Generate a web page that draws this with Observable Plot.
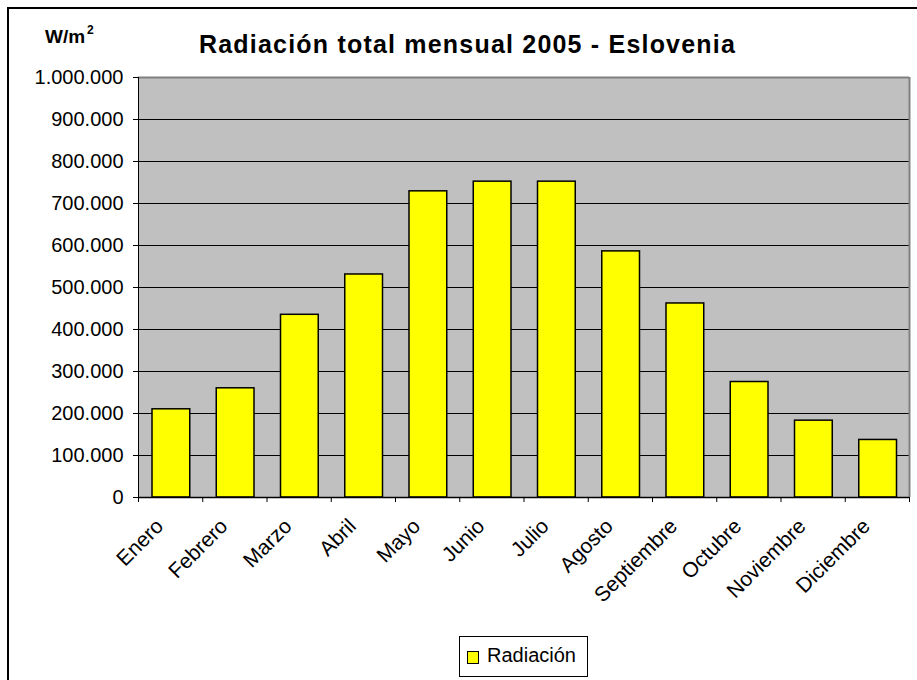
<!DOCTYPE html>
<html>
<head>
<meta charset="utf-8">
<script src="https://cdn.jsdelivr.net/npm/d3@7"></script>
<script src="https://cdn.jsdelivr.net/npm/@observablehq/plot@0.6"></script>
<style>
  html, body { margin: 0; padding: 0; background: #fff; overflow: hidden; }
  #wrap { position: relative; width: 917px; height: 680px; overflow: hidden; font-family: "Liberation Sans", Arial, sans-serif; }
  #border { position: absolute; left: 7px; top: 7px; width: 930px; height: 700px; border: 2px solid #000; box-sizing: border-box; }
  #chart { position: absolute; left: 0; top: 0; }
  #title { position: absolute; left: 0; width: 935px; top: 30px; text-align: center; font-weight: bold; font-size: 25px; letter-spacing: 1.2px; color: #000; white-space: nowrap; }
  #unit { position: absolute; left: 45px; top: 25px; font-weight: bold; font-size: 19px; color: #000; white-space: nowrap; }
  #unit sup { font-size: 12px; position: relative; top: -2px; margin-left: 2px; }
  #legend { position: absolute; left: 459px; top: 636px; width: 129px; height: 41px; border: 1px solid #000; box-sizing: border-box; background: #fff; }
  #legend .sw { position: absolute; left: 7px; top: 14px; width: 12px; height: 13px; background: #FFFF00; border: 1.5px solid #000; box-sizing: border-box; }
  #legend .lb { position: absolute; left: 27px; top: 7px; font-size: 20px; color: #000; white-space: nowrap; }
</style>
</head>
<body>
<div id="wrap">
  <div id="chart"></div>
  <div id="border"></div>
  <div id="unit">W/m<sup>2</sup></div>
  <div id="title"></div>
  <div id="legend"><div class="sw"></div><div class="lb"></div></div>
</div>
<script>
const titleText = "Radiación total mensual 2005 - Eslovenia";
const seriesName = "Radiación";
const months = ["Enero", "Febrero", "Marzo", "Abril", "Mayo", "Junio", "Julio", "Agosto", "Septiembre", "Octubre", "Noviembre", "Diciembre"];
const values = [210000, 260000, 435000, 531000, 729000, 752000, 752000, 586000, 462000, 275000, 183000, 137000];
const yTicks = [0, 100000, 200000, 300000, 400000, 500000, 600000, 700000, 800000, 900000, 1000000];

document.getElementById("title").textContent = titleText;
document.querySelector("#legend .lb").textContent = seriesName;

const fmt = d3.formatLocale({decimal: ",", thousands: ".", grouping: [3], currency: ["", ""]}).format(",");
const data = months.map((m, i) => ({month: m, idx: i, value: values[i]}));
const yMax = yTicks[yTicks.length - 1];
const boundaries = d3.range(months.length + 1);

const chart = Plot.plot({
  width: 917,
  height: 680,
  marginLeft: 138,
  marginRight: 8,
  marginTop: 77,
  marginBottom: 183,
  style: {fontFamily: "'Liberation Sans', Arial, sans-serif", fontSize: "20px", background: "transparent", color: "#000", overflow: "visible"},
  x: {type: "linear", domain: [0, months.length], axis: null},
  y: {domain: [0, yMax], axis: null},
  marks: [
    Plot.frame({fill: "#C0C0C0", stroke: null}),
    Plot.ruleY(yTicks.filter(d => d > 0 && d < yMax), {stroke: "#000", strokeWidth: 1}),
    Plot.rectY(data, {x1: "idx", x2: d => d.idx + 1, y: "value", fill: "#FFFF00", stroke: "#000", strokeWidth: 1.5, insetLeft: 14, insetRight: 12.5}),
    Plot.ruleY([yMax], {stroke: "#808080", strokeWidth: 2}),
    Plot.ruleX([months.length], {stroke: "#808080", strokeWidth: 2}),
    Plot.ruleX([0], {stroke: "#000", strokeWidth: 1}),
    Plot.ruleY([0], {stroke: "#000", strokeWidth: 1.5}),
    Plot.axisY({ticks: yTicks, tickFormat: fmt, tickSize: 5, tickPadding: 10, fontSize: 20, label: null, stroke: "#000"}),
    Plot.axisX({ticks: boundaries, tickFormat: () => "", tickSize: 5, label: null, stroke: "#000"}),
    Plot.text(data, {x: d => d.idx + 0.5, frameAnchor: "bottom", text: "month", rotate: -45, textAnchor: "end", dx: -6, dy: 30, fontSize: 21, fill: "#000"})
  ]
});
document.getElementById("chart").appendChild(chart);
</script>
</body>
</html>
